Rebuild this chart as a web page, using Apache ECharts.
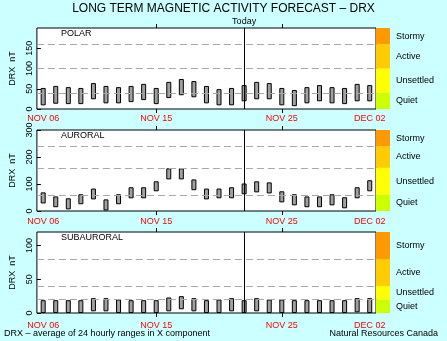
<!DOCTYPE html>
<html><head><meta charset="utf-8">
<script src="https://cdn.jsdelivr.net/npm/echarts@6/dist/echarts.min.js"></script>
<style>html,body{margin:0;padding:0;background:#ccffff}#c{width:447px;height:341px}</style>
</head><body><div id="c"></div>
<script>
// ---- data ----
const categories = ['NOV 06','NOV 07','NOV 08','NOV 09','NOV 10','NOV 11','NOV 12','NOV 13','NOV 14','NOV 15',
  'NOV 16','NOV 17','NOV 18','NOV 19','NOV 20','NOV 21','NOV 22','NOV 23','NOV 24','NOV 25',
  'NOV 26','NOV 27','NOV 28','NOV 29','NOV 30','DEC 01','DEC 02'];
const labelDates = ['NOV 06','NOV 15','NOV 25','DEC 02'];
const tickDates = ['NOV 15','NOV 25'];
const todayDate = 'NOV 22';

const polarLow  = [9,13,12,12,24,14,14,17,22,12,27,34,29,14,9,9,19,24,24,9,7,14,19,14,12,19,19];
const polarHigh = [52,57,54,52,64,57,54,57,62,52,67,74,69,57,49,52,59,67,64,52,47,54,59,54,52,62,59];
const auroralLow  = [28,14,6,25,43,2,25,47,47,73,117,117,77,43,47,47,62,69,65,32,21,14,14,21,10,47,73];
const auroralHigh = [69,54,47,62,83,43,62,88,88,110,158,158,117,83,83,88,102,110,106,73,62,54,54,62,51,88,114];
const subLow  = [0,0,0,0,2.5,2.5,0,0,0,0,2.5,5.5,2.5,0,0,2.5,0,2.5,0,0,0,0,0,0,0,1,0];
const subHigh = [19,19,19,19,22,22,20,19,19,19,23,25,22,19,20,22,19,22,20,20,19,19,19,19,19,22,22];

const panelNames = ['POLAR','AURORAL','SUBAURORAL'];
const panelMax = [200,300,120];
const panelInterval = [50,100,50];
const showMaxTick = [false,true,false];
const panelLevels = [[40,100,160],[60,160,240],[20,40,80]];
const levelNames = ['Quiet','Unsettled','Active','Stormy'];
const levelColors = ['#ccff00','#ffff00','#ffcc00','#ff9900'];
const titleText = 'LONG TERM MAGNETIC ACTIVITY FORECAST \u2013 DRX';
const footLeft = 'DRX \u2013 average of 24 hourly ranges in X component';
const footRight = 'Natural Resources Canada';
const todayText = 'Today';
const yName = 'DRX  nT';

const lows = [polarLow, auroralLow, subLow];
const highs = [polarHigh, auroralHigh, subHigh];

// ---- layout ----
const FONT = 'Liberation Sans';
const tops = [28,130,232];
const plotH = 81, plotL = 35, plotW = 341, bandW = 14;
const labelMargins = [5,6,8];

const grid = [], xAxis = [], yAxis = [], series = [];
const title = [
  {text: titleText, left: 'center', top: 3, padding: 0,
   textStyle: {fontSize: 12, fontFamily: FONT, fontWeight: 'normal', color: '#000'}},
  {text: footLeft, left: 4, top: 329, padding: 0, textStyle: {fontSize: 9, fontFamily: FONT, fontWeight: 'normal', color: '#000'}},
  {text: footRight, right: 9, top: 329, padding: 0, textStyle: {fontSize: 9, fontFamily: FONT, fontWeight: 'normal', color: '#000'}}
];

const isLabel = (i) => labelDates.includes(categories[i]);
const isTick = (i) => tickDates.includes(categories[i]);

for (let p = 0; p < 3; p++) {
  const top = tops[p];
  grid.push({left: plotL, top: top, width: plotW, height: plotH, show: true, backgroundColor: '#fff', borderColor: '#000', borderWidth: 1});
  grid.push({left: plotL + plotW, top: top, width: bandW, height: plotH});
  title.push({text: panelNames[p], left: 61, top: top + 1, padding: 0, textStyle: {fontSize: 9, fontFamily: FONT, fontWeight: 'normal', color: '#000'}});

  const gi = p * 2;
  const tickCfg = {show: true, inside: false, length: 4, alignWithLabel: true, interval: (i) => isTick(i), lineStyle: {color: '#000', width: 1}};
  xAxis.push({type: 'category', gridIndex: gi, data: categories, position: 'bottom',
    axisLine: {show: false}, axisTick: tickCfg,
    axisLabel: {interval: (i) => isLabel(i), color: '#ff0000', fontSize: 9, fontFamily: FONT, margin: labelMargins[p]}});
  xAxis.push({type: 'category', gridIndex: gi, data: categories, position: 'top',
    axisLine: {show: false}, axisTick: tickCfg, axisLabel: {show: false}});
  xAxis.push({type: 'category', gridIndex: gi + 1, data: ['band'], show: false});

  yAxis.push({type: 'value', gridIndex: gi, min: 0, max: panelMax[p], interval: panelInterval[p],
    axisLine: {show: false}, splitLine: {show: false},
    axisTick: {show: true, inside: true, length: 4, lineStyle: {color: '#000'}},
    axisLabel: {rotate: 90, fontSize: 9, fontFamily: FONT, color: '#000', margin: 3, showMaxLabel: showMaxTick[p]},
    name: yName, nameLocation: 'middle', nameGap: 18, nameRotate: 90,
    nameTextStyle: {fontSize: 9, fontFamily: FONT, color: '#000'}});
  yAxis.push({type: 'value', gridIndex: gi + 1, min: 0, max: panelMax[p], show: false});

  const xi = p * 3, yi = p * 2;
  const lv = panelLevels[p];
  const mlData = lv.map(v => ({yAxis: v, lineStyle: {type: [7, 4], color: '#a8a8a8', width: 1}, label: {show: false}}));
  mlData.push({xAxis: todayDate, lineStyle: {type: 'solid', color: '#000', width: 1},
    label: p === 0 ? {show: true, formatter: todayText, position: 'end', distance: 2, fontSize: 9, fontFamily: FONT, color: '#000'} : {show: false}});

  series.push({type: 'bar', xAxisIndex: xi, yAxisIndex: yi, stack: 'r' + p, barWidth: 5, z: 2,
    data: lows[p], itemStyle: {color: 'rgba(0,0,0,0)'}, silent: true,
    markLine: {symbol: ['none', 'none'], silent: true, animation: false, data: mlData}});
  series.push({type: 'bar', xAxisIndex: xi, yAxisIndex: yi, stack: 'r' + p, barWidth: 5, z: 3,
    data: highs[p].map((h, i) => +(h - lows[p][i]).toFixed(2)),
    itemStyle: {color: '#a0a0a0', borderColor: '#000', borderWidth: 1}, silent: true});

  const bounds = [0].concat(lv, [panelMax[p]]);
  for (let k = 0; k < 4; k++) {
    series.push({type: 'bar', xAxisIndex: xi + 2, yAxisIndex: yi + 1, stack: 'b' + p, barWidth: '100%', silent: true,
      data: [bounds[k + 1] - bounds[k]], itemStyle: {color: levelColors[k]},
      label: {show: true, position: 'right', distance: 6, formatter: levelNames[k], fontSize: 9, fontFamily: FONT, color: '#000'}});
  }
}

const chart = echarts.init(document.getElementById('c'));
chart.setOption({backgroundColor: '#ccffff', animation: false, title, grid, xAxis, yAxis, series});
</script></body></html>
